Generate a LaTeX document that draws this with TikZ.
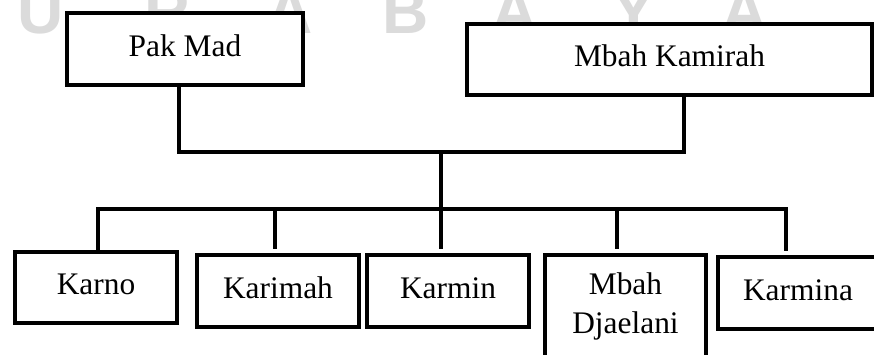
\documentclass[tikz,border=0pt]{standalone}
\usepackage{fontspec}
\setmainfont{Liberation Serif}
\newfontfamily\wmfont{Liberation Sans}
\begin{document}
\begin{tikzpicture}[x=0.5pt,y=-0.5pt,
  person/.style={draw, fill=white, line width=2pt, inner sep=0pt, align=center,
    font=\fontsize{15.7}{19.5}\selectfont},
  single/.style={person, text height=11pt, text depth=4pt},
  link/.style={line width=2pt},
  wm/.style={text=gray!28, font=\wmfont\bfseries\fontsize{32}{32}\selectfont,
    anchor=base, inner sep=0pt}]
\useasboundingbox (0,0) rectangle (874,354);
\fill[white] (0,0) rectangle (874,354);
\clip (0,0) rectangle (874,354);
% watermark
\foreach \x/\l [count=\i] in {41/U,168/R,290/A,406/B,515/A,634/Y,745/A}
  \node[wm] (wm\i) at (\x,33) {\l};
% parents
\node[single, minimum width=118pt, minimum height=36pt] (pak) at (185,49) {Pak Mad};
\node[single, minimum width=202.5pt, minimum height=35.5pt] (kam) at (669.5,59.5) {Mbah Kamirah};
% children
\node[single, minimum width=81pt, minimum height=35.5pt] (karno) at (96,287.5) {Karno};
\node[single, minimum width=81pt, minimum height=36pt] (karimah) at (278,291) {Karimah};
\node[single, minimum width=81pt, minimum height=36pt] (karmin) at (448,291) {Karmin};
\node[person, minimum width=80.5pt, minimum height=51.5pt] (djaelani) at (625.5,306.5) {Mbah\\Djaelani};
\node[single, minimum width=80pt, minimum height=36pt] (karmina) at (798,293) {Karmina};
% junction points
\coordinate (pakx) at (179,152);
\coordinate (kamx) at (684,152);
\coordinate (j1) at (441,152);
\coordinate (j2) at (441,209);
\coordinate (d1) at (98,209);
\coordinate (d2) at (275,209);
\coordinate (d3) at (441,209);
\coordinate (d4) at (617,209);
\coordinate (d5) at (786,209);
% connectors
\draw[link] (pakx |- pak.south) -- (pakx) -- (kamx) -- (kamx |- kam.south);
\draw[link] (j1) -- (j2);
\draw[link, line cap=rect] (d1) -- (d5);
\draw[link] (d1) -- (d1 |- karno.north);
\draw[link, shorten >=2pt] (d2) -- (d2 |- karimah.north);
\draw[link, shorten >=2pt] (d3) -- (d3 |- karmin.north);
\draw[link, shorten >=2pt] (d4) -- (d4 |- djaelani.north);
\draw[link, shorten >=2pt] (d5) -- (d5 |- karmina.north);
\end{tikzpicture}
\end{document}
